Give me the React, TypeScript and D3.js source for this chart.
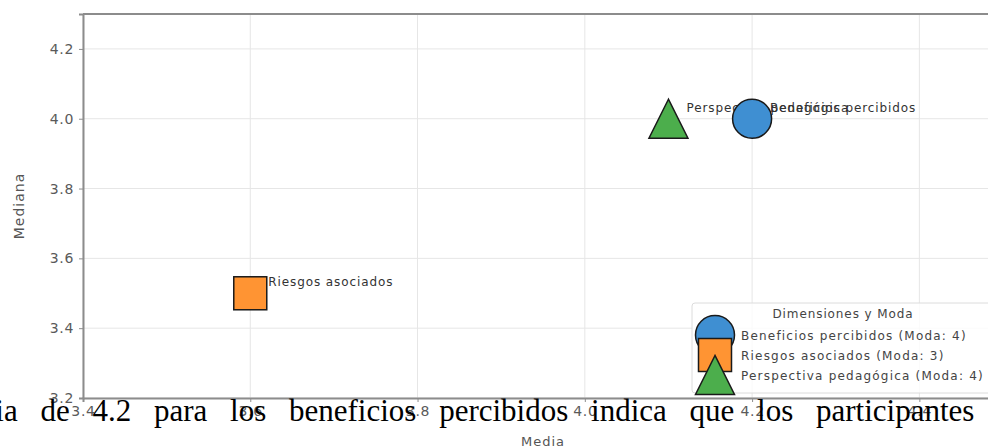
import React, { useEffect, useRef } from 'react';
import * as d3 from 'd3';

const dimensions = ['Beneficios percibidos', 'Riesgos asociados', 'Perspectiva pedagógica'];
const means = [4.2, 3.6, 4.1];
const medians = [4.0, 3.5, 4.0];
const modes = [4, 3, 4];
const markerShapes = ['circle', 'square', 'triangle'];
const markerColors = ['#3f8fd2', '#ff9433', '#4cae4c'];

const xTicks = [3.4, 3.6, 3.8, 4.0, 4.2, 4.4];
const yTicks = [3.2, 3.4, 3.6, 3.8, 4.0, 4.2];

const legendTitle = 'Dimensiones y Moda';
const xLabel = 'Media';
const yLabel = 'Mediana';
const bodyLine = 'media de 4.2 para los beneficios percibidos indica que los participantes';

const W = 988;
const H = 448;

function drawMarker(sel: d3.Selection<SVGGElement, unknown, null, undefined>, shape: string, color: string) {
  if (shape === 'circle') {
    sel.append('circle').attr('r', 19.5).attr('fill', color).attr('stroke', '#1a1a1a').attr('stroke-width', 1.5);
  } else if (shape === 'square') {
    sel.append('rect').attr('x', -16.5).attr('y', -16.5).attr('width', 33).attr('height', 33)
      .attr('fill', color).attr('stroke', '#1a1a1a').attr('stroke-width', 1.5);
  } else {
    const s = 19.5;
    const tri = d3.line()([[0, -s], [-s, s], [s, s]]) + 'Z';
    sel.append('path').attr('d', tri).attr('fill', color).attr('stroke', '#1a1a1a')
      .attr('stroke-width', 1.5).attr('stroke-linejoin', 'miter');
  }
}

export default function App() {
  const svgRef = useRef<SVGSVGElement>(null);

  useEffect(() => {
    document.body.style.margin = '0';
    if (!svgRef.current) return;
    const svg = d3.select(svgRef.current);
    svg.selectAll('*').remove();

    const x = d3.scaleLinear().domain([3.4, 4.5]).range([83, 1003]);
    const y = d3.scaleLinear().domain([3.2, 4.3]).range([398, 14]);
    const font = 'DejaVu Sans, sans-serif';

    svg.append('rect').attr('width', W).attr('height', H).attr('fill', '#fff');

    // grid
    const grid = svg.append('g');
    grid.selectAll('.vx').data(xTicks).enter().append('line')
      .attr('x1', d => x(d)).attr('x2', d => x(d)).attr('y1', y.range()[1]).attr('y2', y.range()[0])
      .attr('stroke', '#e6e6e6').attr('stroke-width', 1);
    grid.selectAll('.hy').data(yTicks).enter().append('line')
      .attr('y1', d => y(d)).attr('y2', d => y(d)).attr('x1', x.range()[0]).attr('x2', x.range()[1])
      .attr('stroke', '#e6e6e6').attr('stroke-width', 1);

    // axes
    const xAxis = svg.append('g').attr('transform', `translate(0,${y.range()[0]})`)
      .call(d3.axisBottom(x).tickValues(xTicks).tickFormat(d3.format('.1f')).tickSize(4).tickPadding(4));
    const yAxis = svg.append('g').attr('transform', `translate(${x.range()[0]},0)`)
      .call(d3.axisLeft(y).tickValues(yTicks).tickFormat(d3.format('.1f')).tickSize(4).tickPadding(5));
    [xAxis, yAxis].forEach(a => {
      a.select('.domain').attr('stroke', '#8c8c8c').attr('stroke-width', 2);
      a.selectAll('.tick line').attr('stroke', '#8c8c8c');
      a.selectAll('.tick text').attr('fill', '#5a5a5a').style('font-family', font)
        .style('font-size', '14px').style('letter-spacing', '0.7px');
    });
    svg.append('line').attr('x1', x.range()[0]).attr('x2', x.range()[1])
      .attr('y1', y.range()[1]).attr('y2', y.range()[1]).attr('stroke', '#8c8c8c').attr('stroke-width', 2);

    svg.append('text').attr('x', (x.range()[0] + x.range()[1]) / 2).attr('y', 446)
      .attr('text-anchor', 'middle').attr('fill', '#555').style('font-family', font)
      .style('font-size', '13px').style('letter-spacing', '1px').text(xLabel);
    svg.append('text').attr('transform', `translate(24,${(y.range()[0] + y.range()[1]) / 2}) rotate(-90)`)
      .attr('text-anchor', 'middle').attr('fill', '#555').style('font-family', font)
      .style('font-size', '14px').style('letter-spacing', '1px').text(yLabel);

    // annotations
    dimensions.forEach((name, i) => {
      svg.append('text').attr('x', x(means[i]) + 18).attr('y', y(medians[i]) - 7)
        .attr('fill', '#333').style('font-family', font).style('font-size', '12px')
        .style('letter-spacing', '0.9px').text(name);
    });

    // markers
    dimensions.forEach((_, i) => {
      const g = svg.append('g').attr('transform', `translate(${x(means[i])},${y(medians[i])})`);
      drawMarker(g, markerShapes[i], markerColors[i]);
    });

    // legend
    const lg = svg.append('g').attr('transform', 'translate(692,303)');
    lg.append('rect').attr('width', 303).attr('height', 90).attr('rx', 3)
      .attr('fill', 'rgba(255,255,255,0.8)').attr('stroke', '#dcdcdc');
    lg.append('text').attr('x', 151).attr('y', 15).attr('text-anchor', 'middle').attr('fill', '#444')
      .style('font-family', font).style('font-size', '12px').style('letter-spacing', '0.9px').text(legendTitle);
    dimensions.forEach((name, i) => {
      const row = lg.append('g').attr('transform', `translate(23,${32 + i * 20})`);
      drawMarker(row, markerShapes[i], markerColors[i]);
      row.append('text').attr('x', 26).attr('y', 5).attr('fill', '#444')
        .style('font-family', font).style('font-size', '12px').style('letter-spacing', '1.2px')
        .text(`${name} (Moda: ${modes[i]})`);
    });

    // document text running over the figure
    svg.append('text').attr('x', -58).attr('y', 421).attr('fill', '#000')
      .style('font-family', 'Liberation Serif, Times New Roman, serif').style('font-size', '31px')
      .style('word-spacing', '15px').text(bodyLine);
  }, []);

  return <svg ref={svgRef} width={W} height={H} style={{ display: 'block' }} />;
}
